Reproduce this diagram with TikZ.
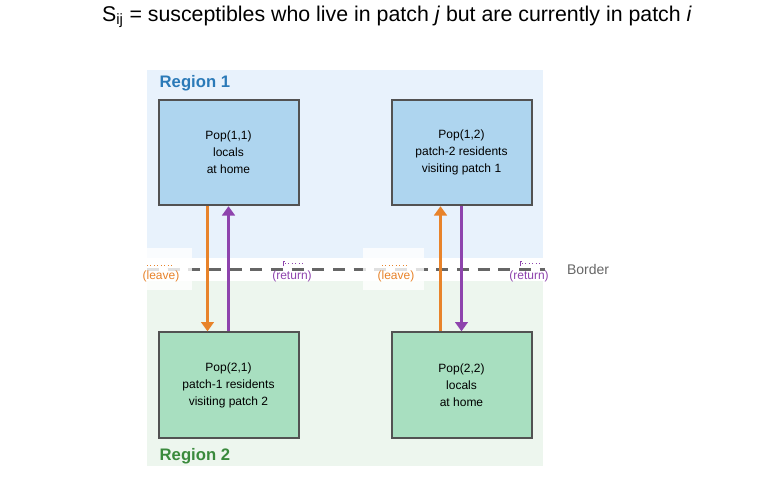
\documentclass[tikz,border=0pt]{standalone}
\usepackage{fontspec}
\setmainfont{Liberation Sans}
\usetikzlibrary{arrows.meta, positioning, backgrounds}
\definecolor{RegionOneBg}{HTML}{E8F2FC}
\definecolor{RegionTwoBg}{HTML}{EDF6EE}
\definecolor{PopBlue}{HTML}{AED5EF}
\definecolor{PopGreen}{HTML}{A8DFC0}
\definecolor{LeaveOrange}{HTML}{E8832A}
\definecolor{ReturnPurple}{HTML}{8E44AD}
\definecolor{RegionOneText}{HTML}{2A7AB8}
\definecolor{RegionTwoText}{HTML}{3A8A3C}
\definecolor{BorderGray}{HTML}{666666}

\begin{document}
\begin{tikzpicture}[x=0.75pt, y=-0.75pt,
        % Caja de población
        popbox/.style={
                rectangle,
                minimum width=105pt,
                minimum height=79pt,
                align=center,
                font=\fontsize{9}{12.75}\selectfont,
                draw=black!68,
                line width=1.5pt
            },
        % Etiqueta de región
        regionlabel/.style={
                anchor=west,
                font=\bfseries\fontsize{12.5}{15}\selectfont
            },
        % Flechas de movimiento
        leavearrow/.style={
                draw=LeaveOrange,
                line width=1.9pt,
                -{Triangle[length=7pt, width=9.5pt]}
            },
        returnarrow/.style={
                draw=ReturnPurple,
                line width=1.9pt,
                -{Triangle[length=7pt, width=9.5pt]}
            },
        % Etiquetas en la frontera
        movelabel/.style={
                font=\fontsize{9}{11}\selectfont,
                inner sep=1pt
            },
        labelbg/.style={
                rectangle,
                fill=white,
                fill opacity=0.8,
                minimum width=46pt,
                minimum height=31.5pt
            }
    ]

    \useasboundingbox (0,0) rectangle (760,500);

    % TÍTULO
    \node[font=\fontsize{16}{19}\selectfont] (title) at (397,17)
        {S\textsubscript{ij} = susceptibles who live in patch \textit{j} but are currently in patch \textit{i}};

    % Regiones
    \fill[RegionOneBg] (147,70) rectangle (543,258);
    \fill[RegionTwoBg] (147,281) rectangle (543,466);
    \node[regionlabel, text=RegionOneText] (reg1) at (155,83) {Region 1};
    \node[regionlabel, text=RegionTwoText] (reg2) at (155,456) {Region 2};

    % POBLACIONES
    \node[popbox, fill=PopBlue] (p11) at (228.5,152.5) {Pop(1,1)\\locals\\at home};
    \node[popbox, fill=PopBlue] (p12) at (461.5,152.5) {Pop(1,2)\\patch-2 residents\\visiting patch 1};
    \node[popbox, fill=PopGreen] (p21) at (228.5,385) {Pop(2,1)\\patch-1 residents\\visiting patch 2};
    \node[popbox, fill=PopGreen] (p22) at (461.5,385) {Pop(2,2)\\locals\\at home};

    % Frontera
    \coordinate (borderW) at (147,269);
    \coordinate (borderE) at (545,269);
    \draw[BorderGray, line width=2.25pt, dash pattern=on 9pt off 6.5pt] (borderW) -- (borderE);
    \node[BorderGray, font=\fontsize{10.5}{12}\selectfont, right=13pt of borderE] (border) {Border};

    % Fondos blancos de las etiquetas
    \node[labelbg] (bg1) at (161,269) {};
    \node[labelbg] (bg2) at (393.5,269) {};

    % Movimientos
    \draw[leavearrow] ([xshift=-15.75pt]p11.south) -- ([xshift=-15.75pt]p21.north);
    \draw[returnarrow] (p21.north) -- (p11.south);
    \draw[leavearrow] ([xshift=-15.75pt]p22.north) -- ([xshift=-15.75pt]p12.south);
    \draw[returnarrow] (p12.south) -- (p22.north);

    % ETIQUETAS
    \node[movelabel, text=LeaveOrange] (lv1) at (161,276) {(leave)};
    \node[movelabel, text=ReturnPurple] (rt1) at (292,276) {(return)};
    \node[movelabel, text=LeaveOrange] (lv2) at (396,276) {(leave)};
    \node[movelabel, text=ReturnPurple] (rt2) at (529,276) {(return)};

    \foreach \lv in {lv1, lv2} {
        \draw[LeaveOrange, line width=0.6pt, dotted]
            ([xshift=-10.5pt, yshift=8pt]\lv.center) -- ([xshift=9pt, yshift=8pt]\lv.center);
    }
    \foreach \rt in {rt1, rt2} {
        \draw[ReturnPurple, line width=0.6pt]
            ([xshift=-6.75pt, yshift=7.5pt]\rt.center) -- ([xshift=-6.75pt, yshift=11.25pt]\rt.center)
            -- ([xshift=-5.25pt, yshift=11.25pt]\rt.center);
        \draw[ReturnPurple, line width=0.6pt, dotted]
            ([xshift=-5.25pt, yshift=9.75pt]\rt.center) -- ([xshift=8.25pt, yshift=9.75pt]\rt.center);
    }

\end{tikzpicture}
\end{document}
